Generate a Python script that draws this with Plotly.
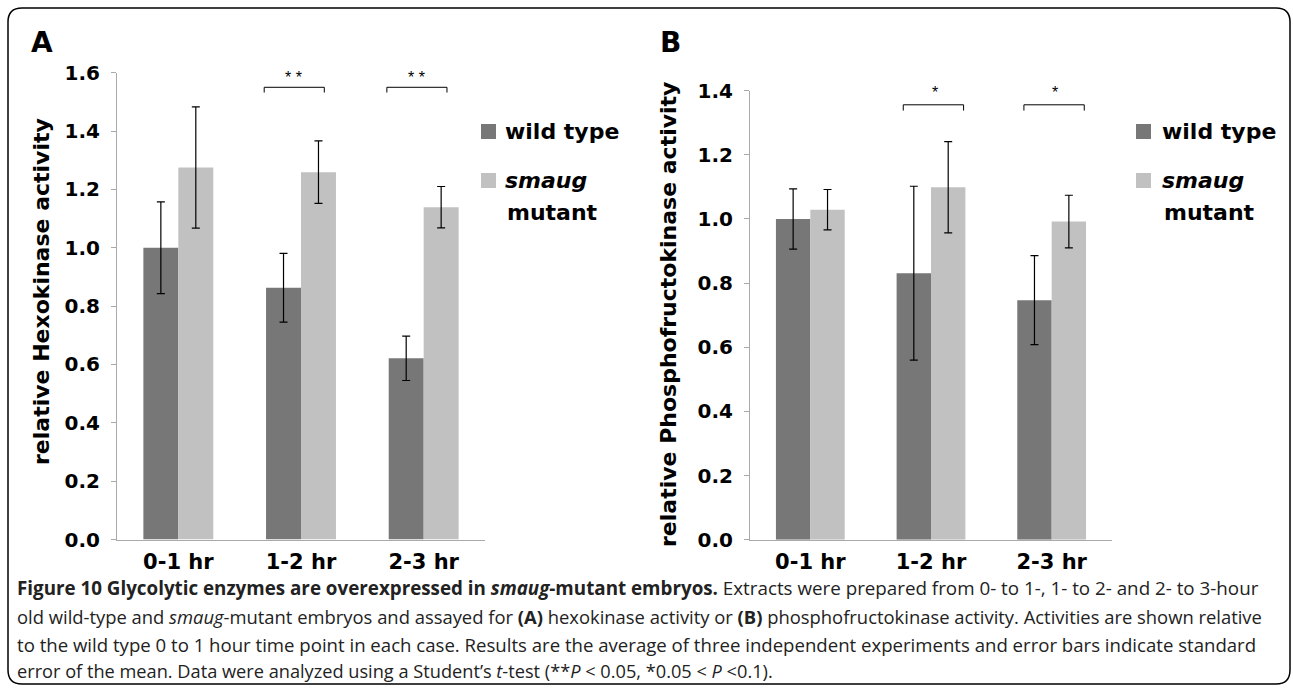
import plotly.graph_objects as go

W, H = 1293, 689

categories = ["0-1 hr", "1-2 hr", "2-3 hr"]

hk_wt = [1.00, 0.863, 0.621]
hk_wt_err = [0.157, 0.118, 0.076]
hk_sm = [1.275, 1.259, 1.139]
hk_sm_err = [0.208, 0.107, 0.071]

pfk_wt = [1.00, 0.831, 0.747]
pfk_wt_err = [0.094, 0.271, 0.139]
pfk_sm = [1.029, 1.099, 0.992]
pfk_sm_err = [0.063, 0.142, 0.082]

hk_sig = ["", "* *", "* *"]
pfk_sig = ["", "*", "*"]

yticks_A = [0.0, 0.2, 0.4, 0.6, 0.8, 1.0, 1.2, 1.4, 1.6]
yticks_B = [0.0, 0.2, 0.4, 0.6, 0.8, 1.0, 1.2, 1.4]

DARK = "#777777"
LIGHT = "#c1c1c1"
AXC = "#aaaaaa"
BOLD = "DejaVu Sans"


def px(x):
    return x / W


def py(y):
    return 1 - y / H


fig = go.Figure()

for xa, ya, wt, wte, sm, sme in [
    ("x", "y", hk_wt, hk_wt_err, hk_sm, hk_sm_err),
    ("x2", "y2", pfk_wt, pfk_wt_err, pfk_sm, pfk_sm_err),
]:
    fig.add_trace(go.Bar(
        x=categories, y=wt, xaxis=xa, yaxis=ya, name="wild type",
        marker=dict(color=DARK, line=dict(width=0)),
        error_y=dict(type="data", array=wte, color="black", thickness=1.2, width=4),
        showlegend=False,
    ))
    fig.add_trace(go.Bar(
        x=categories, y=sm, xaxis=xa, yaxis=ya, name="smaug mutant",
        marker=dict(color=LIGHT, line=dict(width=0)),
        error_y=dict(type="data", array=sme, color="black", thickness=1.2, width=4),
        showlegend=False,
    ))

axis_common_x = dict(
    showline=True, linecolor=AXC, linewidth=1, ticks="", showgrid=False,
    zeroline=False, tickfont=dict(family=BOLD, size=21, color="black", weight="bold"),
    fixedrange=True, automargin=False, ticklabelstandoff=3,
)
axis_common_y = dict(
    showline=True, linecolor=AXC, linewidth=1, ticks="outside", ticklen=5,
    tickcolor=AXC, tickwidth=1, showgrid=False, zeroline=False,
    tickformat=".1f", tickfont=dict(family=BOLD, size=20, color="black", weight="bold"),
    fixedrange=True, automargin=False, ticklabelstandoff=7,
)

fig.update_layout(
    width=W, height=H,
    margin=dict(l=0, r=0, t=0, b=0),
    paper_bgcolor="white", plot_bgcolor="white",
    barmode="group", bargap=0.43, bargroupgap=0.0,
    xaxis=dict(domain=[px(117), px(485)], anchor="y", **axis_common_x),
    yaxis=dict(domain=[py(539.5), py(72.7)], anchor="x", range=[0, 1.6],
               tickvals=yticks_A, **axis_common_y),
    xaxis2=dict(domain=[px(750), px(1112)], anchor="y2", **axis_common_x),
    yaxis2=dict(domain=[py(539.7), py(90.7)], anchor="x2", range=[0, 1.4],
                tickvals=yticks_B, **axis_common_y),
    showlegend=False,
)

shapes = []
annotations = []


def brackets(sig, xa, ya, lo, hi, ylow, yhigh, ystar, starx):
    for i, s in enumerate(sig):
        if not s:
            continue
        x0, x1 = i + lo, i + hi
        for (a, b, c, d) in [(x0, ylow, x0, yhigh), (x0, yhigh, x1, yhigh), (x1, yhigh, x1, ylow)]:
            shapes.append(dict(type="line", xref=xa, yref=ya, x0=a, y0=b, x1=c, y1=d,
                               line=dict(color="black", width=1)))
        annotations.append(dict(text=s, x=i + starx, y=ystar, xref=xa, yref=ya,
                                showarrow=False, font=dict(family="Liberation Sans", size=16, color="black")))


brackets(hk_sig, "x", "y", -0.30, 0.19, 1.532, 1.55, 1.585, -0.06)
brackets(pfk_sig, "x2", "y2", -0.23, 0.27, 1.338, 1.356, 1.395, 0.03)


def legend(xsq, xtxt, xmut):
    shapes.append(dict(type="rect", xref="paper", yref="paper",
                       x0=px(xsq), x1=px(xsq + 15), y0=py(139), y1=py(124),
                       fillcolor=DARK, line=dict(width=0)))
    shapes.append(dict(type="rect", xref="paper", yref="paper",
                       x0=px(xsq), x1=px(xsq + 15), y0=py(188), y1=py(173),
                       fillcolor=LIGHT, line=dict(width=0)))
    annotations.append(dict(text="<b>wild type</b>", x=px(xtxt), y=py(131), xref="paper", yref="paper",
                            xanchor="left", yanchor="middle", showarrow=False,
                            font=dict(family=BOLD, size=22, color="black")))
    annotations.append(dict(text="<b><i>smaug</i></b>", x=px(xtxt), y=py(180), xref="paper", yref="paper",
                            xanchor="left", yanchor="middle", showarrow=False,
                            font=dict(family=BOLD, size=22, color="black")))
    annotations.append(dict(text="<b>mutant</b>", x=px(xmut), y=py(212), xref="paper", yref="paper",
                            xanchor="left", yanchor="middle", showarrow=False,
                            font=dict(family=BOLD, size=22, color="black")))


legend(481, 503, 505)
legend(1136, 1160, 1162)

for letter, xc in [("A", 42), ("B", 670)]:
    annotations.append(dict(text="<b>%s</b>" % letter, x=px(xc), y=py(43), xref="paper", yref="paper",
                            xanchor="center", yanchor="middle", showarrow=False,
                            font=dict(family=BOLD, size=28, color="black")))

annotations.append(dict(text="<b>relative Hexokinase activity</b>", x=px(42), y=py(292),
                        xref="paper", yref="paper", textangle=-90, showarrow=False,
                        xanchor="center", yanchor="middle",
                        font=dict(family=BOLD, size=22, color="black")))
annotations.append(dict(text="<b>relative Phosphofructokinase activity</b>", x=px(668), y=py(315),
                        xref="paper", yref="paper", textangle=-90, showarrow=False,
                        xanchor="center", yanchor="middle",
                        font=dict(family=BOLD, size=22, color="black")))

caption_lines = [
    "<b>Figure 10 Glycolytic enzymes are overexpressed in <i>smaug</i>-mutant embryos.</b> Extracts were prepared from 0- to 1-, 1- to 2- and 2- to 3-hour",
    "old wild-type and <i>smaug</i>-mutant embryos and assayed for <b>(A)</b> hexokinase activity or <b>(B)</b> phosphofructokinase activity. Activities are shown relative",
    "to the wild type 0 to 1 hour time point in each case. Results are the average of three independent experiments and error bars indicate standard",
    "error of the mean. Data were analyzed using a Student’s <i>t</i>-test (**<i>P</i> &lt; 0.05, *0.05 &lt; <i>P</i> &lt;0.1).",
]
caption_sizes = [18.8, 18.4, 18.6, 18.2]
caption_y = [588, 616, 644, 671]
for line, fs, yy in zip(caption_lines, caption_sizes, caption_y):
    annotations.append(dict(text=line, x=px(15), y=py(yy), xref="paper", yref="paper",
                            xanchor="left", yanchor="middle", showarrow=False,
                            font=dict(family="Open Sans", size=fs, color="#222222")))

L, T, R, B, r = 8, 8, 1290, 684, 14
path = (f"M {px(L+r)},{py(T)} L {px(R-r)},{py(T)} Q {px(R)},{py(T)} {px(R)},{py(T+r)} "
        f"L {px(R)},{py(B-r)} Q {px(R)},{py(B)} {px(R-r)},{py(B)} "
        f"L {px(L+r)},{py(B)} Q {px(L)},{py(B)} {px(L)},{py(B-r)} "
        f"L {px(L)},{py(T+r)} Q {px(L)},{py(T)} {px(L+r)},{py(T)} Z")
shapes.append(dict(type="path", xref="paper", yref="paper", path=path,
                   line=dict(color="black", width=1.5)))

fig.update_layout(shapes=shapes, annotations=annotations)

fig.write_html("out.html", config={"displayModeBar": False},
               post_script="document.body.style.margin='0px';")
